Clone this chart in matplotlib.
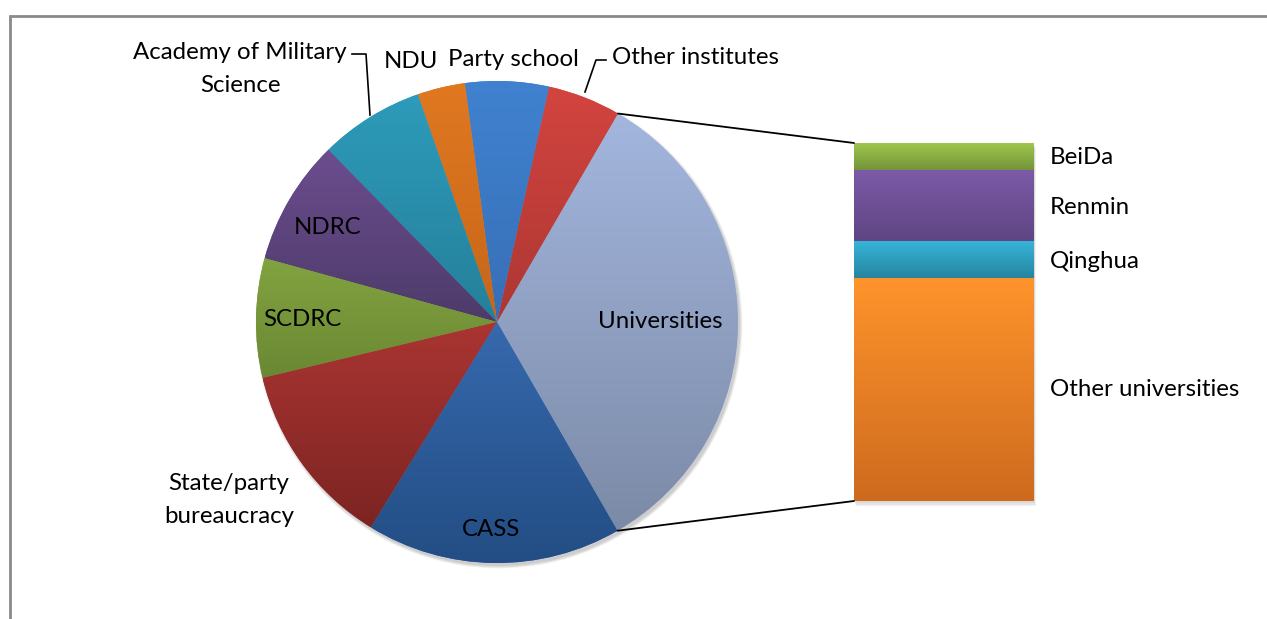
import numpy as np
import matplotlib
matplotlib.use('Agg')
from matplotlib import pyplot as plt
from matplotlib.colors import to_rgb
from matplotlib.patches import Rectangle, Circle, ConnectionPatch

plt.rcParams['font.family'] = ['Lato', 'DejaVu Sans']

# pie: share of each group (%), counter-clockwise from the right
pie_labels = ['Universities', 'Other institutes', 'Party school', 'NDU',
              'Academy of Military\nScience', 'NDRC', 'SCDRC',
              'State/party\nbureaucracy', 'CASS']
pie_values = [33.3, 4.9, 5.6, 3.2, 7.0, 8.4, 8.0, 12.5, 17.1]
pie_top = ['#a3b6de', '#d3443f', '#4082d0', '#e07820', '#2d9bba',
           '#6c4d8f', '#82a340', '#aa3532', '#3669ad']
pie_bottom = ['#7b8aa6', '#ad3733', '#376fb6', '#c6661a', '#25809a',
              '#4d3b69', '#6a8833', '#7c2422', '#234d84']

# bar: break-down of universities (%), bottom to top
bar_labels = ['Other universities', 'Qinghua', 'Renmin', 'BeiDa']
bar_values = [62.4, 10.1, 20.0, 7.5]
bar_top = ['#ff942c', '#37b4d8', '#7c5aa8', '#9fc74c']
bar_bottom = ['#cd6a1e', '#2685a0', '#5f4582', '#74933a']

W, H = 1267, 619
fig = plt.figure(figsize=(W / 100, H / 100), dpi=100)
ax = fig.add_axes([0, 0, 1, 1])
ax.set_axis_off()


def gradient_fill(axes, patch, top, bottom):
    bb = patch.get_path().transformed(patch.get_patch_transform()).get_extents()
    t = np.linspace(0, 1, 256)[:, None, None]
    img = np.array(to_rgb(bottom))[None, None, :] * (1 - t) + np.array(to_rgb(top))[None, None, :] * t
    im = axes.imshow(img, extent=(bb.x0, bb.x1, bb.y0, bb.y1), origin='lower',
                     aspect='auto', interpolation='bilinear', zorder=patch.get_zorder())
    im.set_clip_path(patch)


# pie, centre/radius in pixel units of the overlay axes
cx, cy, r = 497, H - 322, 241
for k in range(4):
    ax.add_patch(Circle((cx + 2, cy - 3), r + k * 0.8, color='#000000', alpha=0.05, lw=0, zorder=0.5))
wedges, _ = ax.pie(pie_values, center=(cx, cy), radius=r, startangle=-60, counterclock=True,
                   colors=pie_top, wedgeprops=dict(linewidth=0), frame=True)
for w, c1, c2 in zip(wedges, pie_top, pie_bottom):
    gradient_fill(ax, w, c1, c2)

# border of the chart area
ax.add_patch(Rectangle((10, -20), 1400, H - 16 + 20, fill=False, edgecolor='#8a8a8a', lw=2, zorder=0))

ax.set_xlim(0, W)
ax.set_ylim(0, H)
ax.set_aspect('auto')

fs = 17.3
label_pos = {
    'Universities': (660, 322),
    'Other institutes': (695, 57),
    'Party school': (513, 59),
    'NDU': (411, 62),
    'Academy of Military\nScience': (240, 69),
    'NDRC': (328, 227),
    'SCDRC': (302, 320),
    'State/party\nbureaucracy': (229, 500),
    'CASS': (491, 530),
}
for lab in pie_labels:
    x, y = label_pos[lab]
    ax.text(x, H - y, lab, ha='center', va='center', fontsize=fs, color='black', linespacing=1.68, zorder=5)

# leader lines
ax.plot([352, 366, 370], [H - 54, H - 54, H - 115], color='black', lw=1.2, zorder=4)
ax.plot([606, 596, 585], [H - 60, H - 60, H - 92], color='black', lw=1.2, zorder=4)

# bar of universities
bx0, by0, bw, bh = 854, 143, 180, 358
ax_bar = fig.add_axes([bx0 / W, (H - by0 - bh) / H, bw / W, bh / H])
ax_bar.set_axis_off()
for k in range(3):
    ax_bar.add_patch(Rectangle((-0.5 + 0.004 * (k + 1), -sum(bar_values) * 0.005 * (k + 1)), 1.0, sum(bar_values),
                               color='#000000', alpha=0.05, lw=0, zorder=0.5, clip_on=False))
bottom = 0
bars = []
for v, c1, c2, lab in zip(bar_values, bar_top, bar_bottom, bar_labels):
    b = ax_bar.bar(0, v, width=1.0, bottom=bottom, color=c1, linewidth=0, zorder=1)[0]
    gradient_fill(ax_bar, b, c1, c2)
    bottom += v
    bars.append(b)
ax_bar.set_xlim(-0.5, 0.5)
ax_bar.set_ylim(0, sum(bar_values))
ax_bar.set_aspect('auto')

label_y = {'BeiDa': 157, 'Renmin': 207, 'Qinghua': 262, 'Other universities': 389}
for lab in bar_labels:
    ax.text(1050, H - label_y[lab], lab, ha='left', va='center', fontsize=fs, color='black', zorder=5)

# connector lines from the universities slice to the bar
th1, th2 = np.deg2rad(wedges[0].theta1), np.deg2rad(wedges[0].theta2)
for th, yb in ((th2, 1), (th1, 0)):
    con = ConnectionPatch(xyA=(cx + r * np.cos(th), cy + r * np.sin(th)), coordsA=ax.transData,
                          xyB=(0, yb), coordsB=ax_bar.transAxes, color='black', lw=1.3)
    fig.add_artist(con)

fig.savefig('out.png', dpi=100)
